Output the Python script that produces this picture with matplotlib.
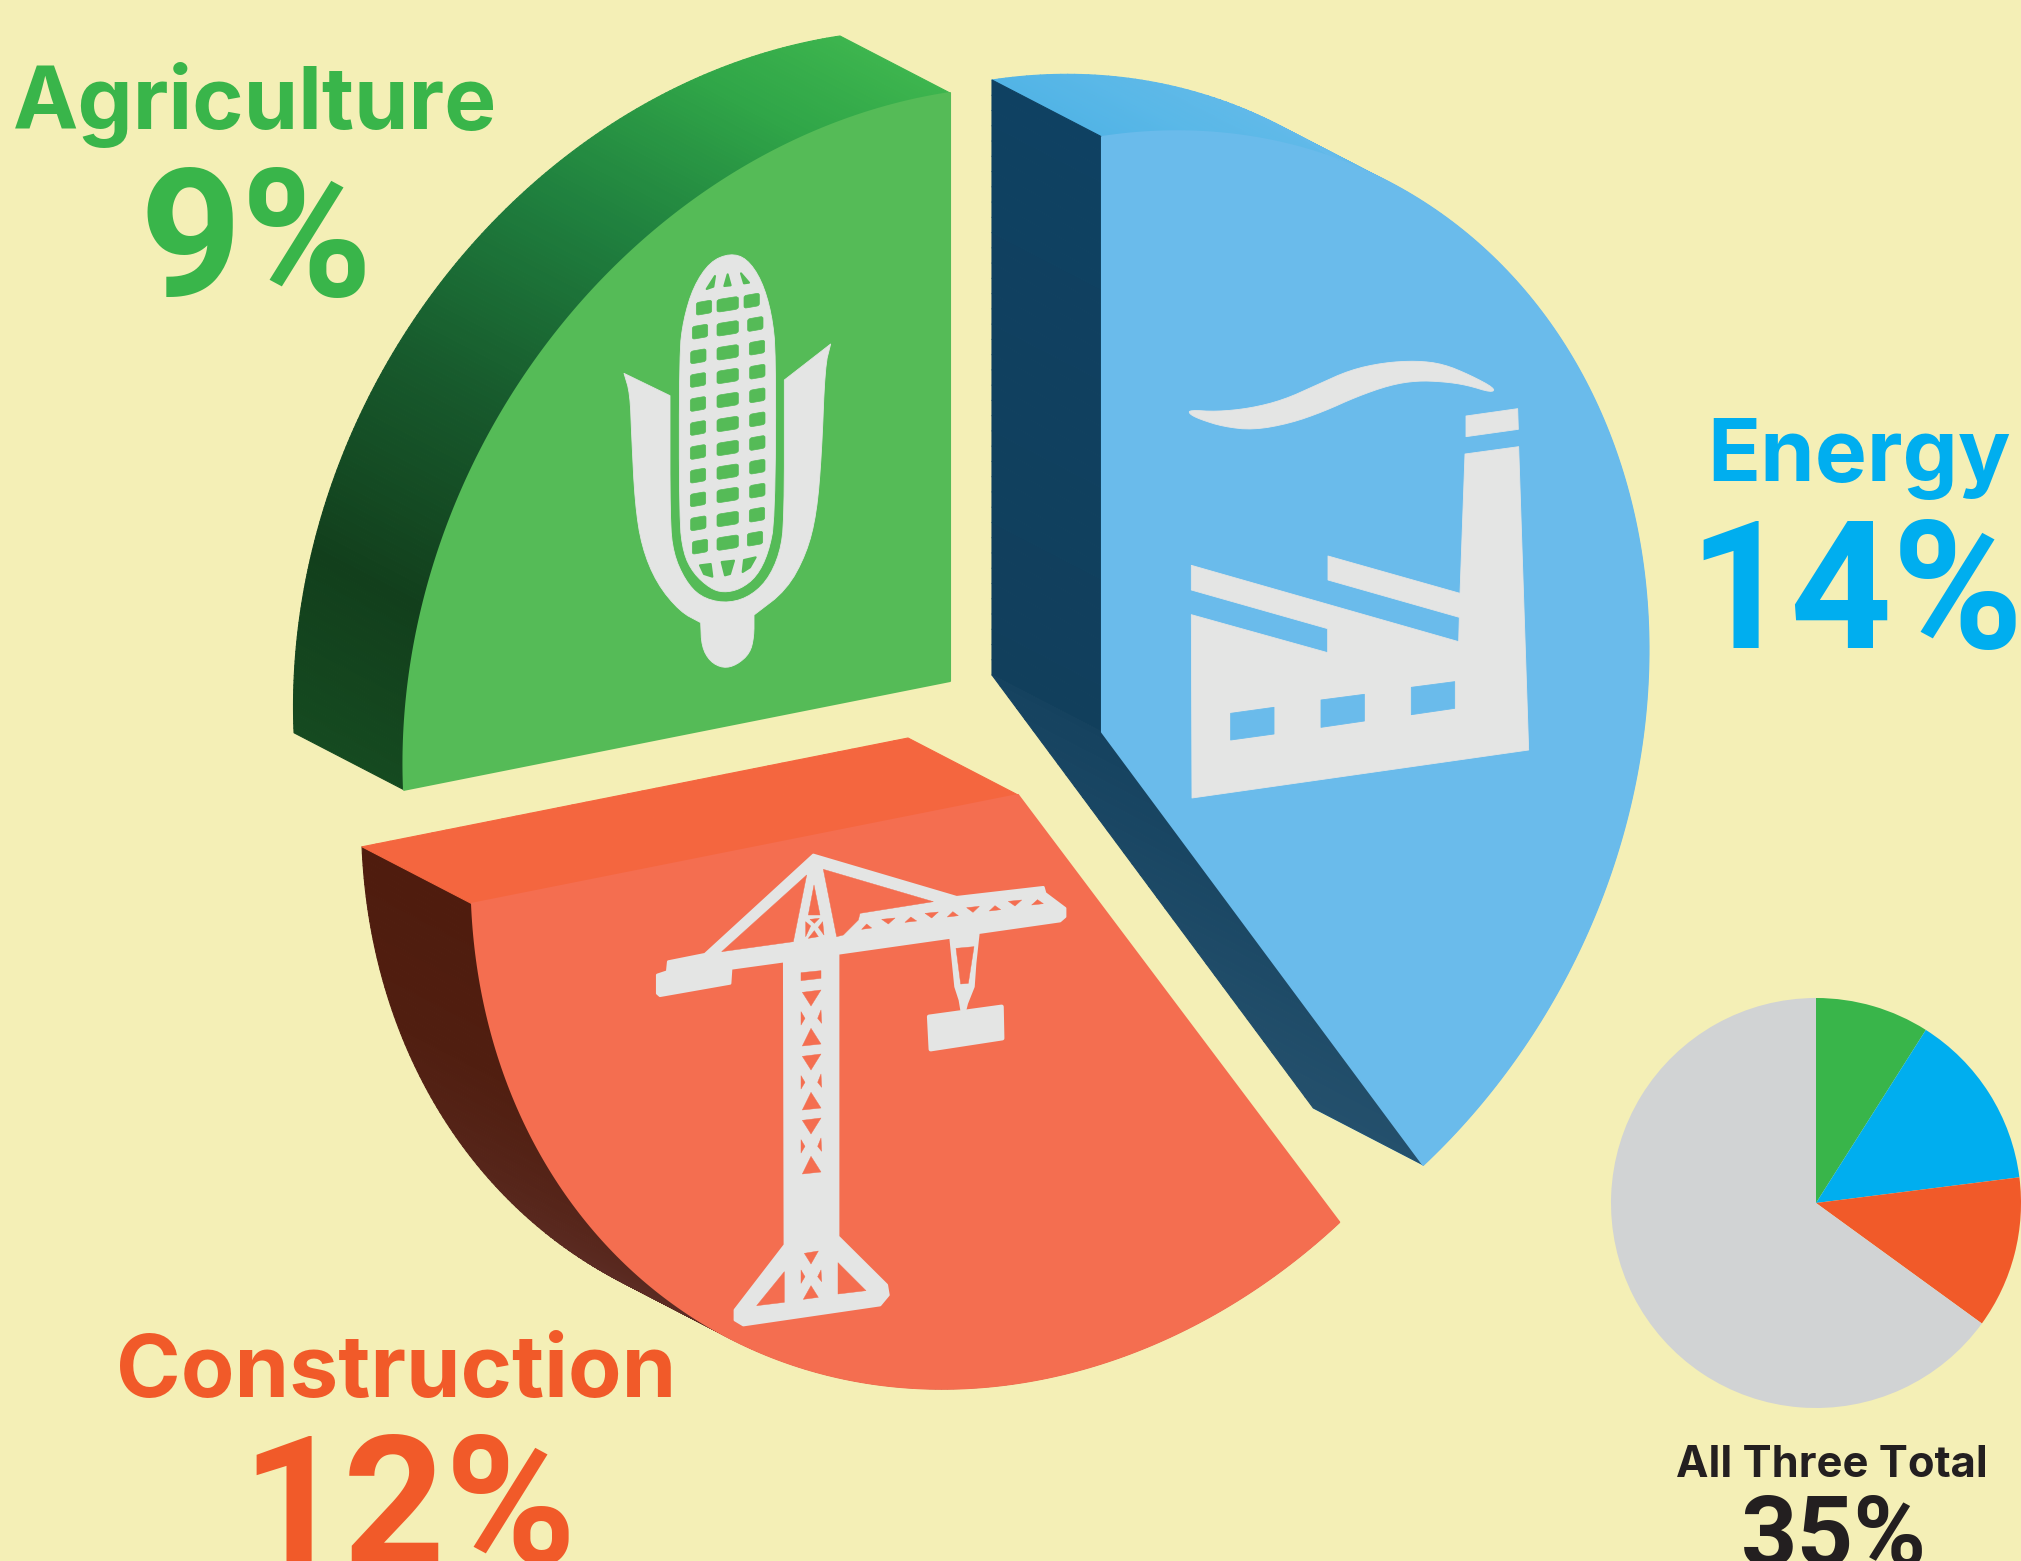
import numpy as np
import matplotlib
matplotlib.use("Agg")
import matplotlib.pyplot as plt
from matplotlib.collections import PolyCollection
from matplotlib.colors import to_rgb
from matplotlib.patches import Polygon

W, H = 2021, 1561
FUNDO = "#f4efb6"
CINZA = "#e4e5e4"

# Dados
setores = ["Energy", "Construction", "Agriculture"]
percentuais = [14, 12, 9]
cores_texto = ["#00aeef", "#f15a29", "#39b54a"]
cores_frente = ["#6abbeb", "#f46e50", "#55bb57"]
resto_label = "All Three Total"
resto_percentual = 35
cor_resto = "#d1d3d4"

plt.rcParams["font.family"] = ["Inter", "DejaVu Sans"]
plt.rcParams["font.weight"] = "bold"

fig = plt.figure(figsize=(W / 100, H / 100), dpi=100, facecolor=FUNDO)
ax = fig.add_axes([0, 0, 1, 1])
ax.set_xlim(0, W)
ax.set_ylim(H, 0)
ax.axis("off")

# Projeção do círculo inclinado
RX, INCL = 546.5, 82.5
PROF = np.array([-110, -57])


def proj(centro, ang, ry=588):
    a = np.radians(ang)
    sx, sy = np.sin(a), np.cos(a)
    return np.column_stack([centro[0] + RX * sx, centro[1] - INCL * sx - ry * sy])


def rampa(t, ts, cores):
    c = np.array([to_rgb(k) for k in cores])
    return [np.interp(t, ts, c[:, i]) for i in range(3)]


def faixa(pts, ts, ts_ref, cores, z):
    # quads extrudados de um contorno, com cor variando ao longo dele
    polys, cs = [], []
    for i in range(len(pts) - 1):
        polys.append([pts[i], pts[i + 1], pts[i + 1] + PROF, pts[i] + PROF])
        cs.append(rampa((ts[i] + ts[i + 1]) / 2, ts_ref, cores))
    ax.add_collection(PolyCollection(polys, facecolors=cs, edgecolors=cs, linewidths=0.8, zorder=z))


def raio_pts(centro, ang, lin, ry=588):
    fim = proj(centro, ang, ry)[0]
    return np.column_stack([centro[0] + lin * (fim[0] - centro[0]), centro[1] + lin * (fim[1] - centro[1])])


def fatia(centro, a0, a1, cor, ry=588, z=5):
    arco = proj(centro, np.linspace(a0, a1, 200), ry)
    ax.add_patch(Polygon(np.vstack([centro, arco]), closed=True, fc=cor, ec=cor, lw=1.5, joinstyle="round", zorder=z))


total = sum(percentuais)
angulos = np.cumsum([0] + [p / total * 360 for p in percentuais])

centro_e = (1102, 732)
centro_c = (1018, 795)
centro_a = (950, 681)
lin = np.linspace(0, 1, 40)

# Energy
a0, a1 = angulos[0], angulos[1]
t = np.linspace(a0, a1, 200)
faixa(proj(centro_e, t, 595), t, [0, 10, 50], ["#52b4e6", "#5ab8e8", "#6abbeb"], 2)
faixa(raio_pts(centro_e, a0, lin, 595), lin, [0, 1], ["#113f5c", "#0f4162"], 3)
faixa(raio_pts(centro_e, a1, lin, 595), lin, [0, 1], ["#15425f", "#24506c"], 3)
fatia(centro_e, a0, a1, cores_frente[0], 595)

# Construction
a0, a1 = angulos[1], angulos[2]
t = np.linspace(a0, a1, 200)
faixa(proj(centro_c, t), t, [a0, 190, 215, 250, a1], ["#6b3a30", "#6b3a30", "#5c2c24", "#501e10", "#4f1c0e"], 2)
faixa(raio_pts(centro_c, a1, lin), lin, [0, 1], ["#f4663f", "#f4663f"], 3)
fatia(centro_c, a0, a1, cores_frente[1])

# Agriculture
a0, a1 = angulos[2], angulos[3]
t = np.linspace(a0, a1, 200)
faixa(proj(centro_a, t), t, [a0, 285, 305, 325, 345, a1],
      ["#154a20", "#123f1c", "#17592c", "#1f7f3e", "#30a648", "#3db54e"], 2)
fatia(centro_a, a0, a1, cores_frente[2])


# Ícones (coordenadas de recorte x3)
def suaviza(p, n=2, f=0.25):
    p = np.array(p, float)
    for _ in range(n):
        q = np.roll(p, -1, axis=0)
        p = np.column_stack([(1 - f) * p + f * q, f * p + (1 - f) * q]).reshape(-1, 2)
    return p


def icone(p, origem, cor=CINZA, z=6, lw=0.6):
    p = np.array(p, float) / 3 + origem
    ax.add_patch(Polygon(p, closed=True, fc=cor, ec=cor, lw=lw, joinstyle="round", zorder=z))


# milho
org = (560, 220)
verde = cores_frente[2]
palha = [(192, 460), (192, 460), (330, 527), (330, 527), (330, 900), (340, 1000), (375, 1080), (420, 1130), (490, 1150),
         (560, 1135), (620, 1085), (660, 1000), (673, 900), (673, 480), (673, 480), (812, 372), (812, 372), (795, 440),
         (785, 700), (770, 880), (740, 1000), (680, 1110), (582, 1185), (582, 1185), (582, 1250), (570, 1300), (530, 1335),
         (490, 1345), (450, 1325), (425, 1280), (422, 1208), (422, 1208), (360, 1175), (290, 1090), (245, 980), (225, 850),
         (215, 650), (210, 520)]
espiga = [(510, 100), (450, 125), (400, 200), (370, 300), (358, 400), (358, 900), (370, 1000), (400, 1060), (450, 1105),
          (490, 1118), (540, 1108), (590, 1070), (625, 1000), (645, 900), (648, 400), (635, 280), (605, 180), (560, 115)]
icone(suaviza(palha), org)
icone(suaviza(espiga), org)

y_esq = [263, 335, 409, 480, 552, 624, 696, 767, 838, 910, 980]
y_mei = [253, 325, 397, 468, 540, 612, 684, 755, 825, 897, 968]
y_dir = [242, 312, 383, 455, 526, 598, 669, 740, 812, 884, 956]
x_esq = [432, 420, 415, 414, 414, 414, 414, 414, 414, 415, 420]
x_dir = [575, 586, 591, 592, 592, 592, 592, 592, 592, 591, 585]
for i in range(11):
    for cx, cy, a, inc in [(x_esq[i], y_esq[i], 23, 4), (503, y_mei[i], 32, 5), (x_dir[i], y_dir[i], 23, 4)]:
        grao = [(cx - a, cy - 19 + inc), (cx + a, cy - 19 - inc), (cx + a, cy + 19 - inc), (cx - a, cy + 19 + inc)]
        icone(suaviza(grao, 2, 0.1), org, cor=verde, z=7, lw=0.5)
for g in [[(465, 168), (440, 207), (460, 200)], [(503, 163), (493, 198), (512, 196)], [(543, 160), (567, 188), (552, 190)],
          [(420, 1036), (452, 1032), (457, 1070), (432, 1062)], [(485, 1026), (522, 1022), (510, 1062), (495, 1066)],
          [(552, 1020), (587, 1012), (570, 1042), (548, 1056)]]:
    icone(g, org, cor=verde, z=7, lw=1.5)

# fábrica
org = (1150, 340)
azul = cores_frente[0]
fumaca = [(118, 210), (200, 215), (300, 205), (400, 180), (500, 135), (600, 90), (700, 68), (800, 62), (880, 72), (960, 105),
          (1035, 145), (1025, 158), (950, 135), (880, 125), (800, 122), (720, 135), (620, 170), (520, 215), (420, 250),
          (310, 270), (220, 260), (150, 238), (118, 222)]
icone(suaviza(fumaca, 2), org)
icone([(948, 228), (1103, 206), (1105, 268), (948, 290)], org)
icone([(124, 676), (926, 905), (928, 832), (534, 720), (534, 648), (930, 760), (945, 342), (1106, 320), (1136, 1230),
       (126, 1374), (124, 824), (533, 938), (533, 866), (124, 750)], org)
for jan in [[(242, 1120), (372, 1102), (372, 1182), (242, 1200)], [(513, 1080), (643, 1063), (643, 1143), (513, 1162)],
            [(784, 1042), (914, 1025), (914, 1105), (784, 1124)]]:
    icone(jan, org, cor=azul, z=7)

# guindaste
org = (640, 840)
laranja = cores_frente[1]
icone([(52, 405), (82, 395), (85, 365), (195, 343), (520, 45), (950, 172), (1210, 142), (1215, 160), (1275, 205), (1275, 230),
       (1260, 243), (1015, 278), (1005, 370), (1000, 440), (980, 490), (975, 510), (965, 510), (960, 480), (947, 440),
       (932, 292), (594, 340), (594, 1190), (740, 1335), (745, 1365), (720, 1395), (310, 1455), (285, 1440), (285, 1410),
       (435, 1215), (433, 363), (273, 385), (270, 430), (60, 467), (52, 460)], org, lw=2)
icone([(867, 530), (1085, 500), (1087, 595), (872, 628)], org, lw=3)
furos = [[(500, 105), (245, 335), (460, 305)],
         [(550, 88), (880, 185), (660, 220), (655, 240), (610, 285), (590, 290)],
         [(522, 135), (540, 225), (505, 225)],
         [(497, 245), (512, 258), (497, 290)], [(548, 245), (535, 262), (552, 285)],
         [(510, 238), (538, 235), (523, 250)], [(523, 272), (535, 290), (505, 295)],
         [(483, 398), (543, 392), (543, 415), (483, 422)],
         [(948, 325), (1002, 320), (985, 430), (962, 432)],
         [(433, 1295), (433, 1387), (350, 1397)], [(594, 1268), (678, 1352), (594, 1362)],
         [(493, 1240), (535, 1233), (513, 1272)], [(483, 1290), (495, 1310), (483, 1330)],
         [(543, 1290), (533, 1310), (545, 1325)], [(513, 1337), (535, 1372), (490, 1378)]]
for x0, x1, y0 in [(665, 695, 268), (725, 765, 238), (795, 830, 247), (855, 895, 220), (922, 955, 231), (980, 1018, 203),
                   (1048, 1082, 213), (1105, 1145, 184), (1175, 1210, 195)]:
    pico = -16 if (x0 in (665, 795, 922, 1048, 1175)) else 14
    furos.append([(x0, y0), (x1, y0 - 4), ((x0 + x1) / 2, y0 + pico)])
for d in [0, 192, 384]:
    furos.append([(487, 457 + d), (543, 450 + d), (513, 498 + d)])
    furos.append([(483, 515 + d), (495, 535 + d), (483, 555 + d)])
    furos.append([(543, 510 + d), (533, 535 + d), (545, 550 + d)])
    furos.append([(513, 565 + d), (543, 612 + d), (487, 618 + d)])
for f in furos:
    icone(f, org, cor=laranja, z=7, lw=0.3)

# Pizza pequena
ax2 = fig.add_axes([1611 / W, (H - 1408) / H, 410 / W, 410 / H])
ax2.pie([percentuais[2], percentuais[0], percentuais[1], 100 - resto_percentual],
        colors=[cores_texto[2], cores_texto[0], cores_texto[1], cor_resto],
        startangle=90, counterclock=False, radius=1.0)
ax2.set_xlim(-1, 1)
ax2.set_ylim(-1, 1)

# Textos
FONTE_PCT = ["Roboto", "DejaVu Sans"]
ax.text(255, 129, setores[2], color=cores_texto[2], fontsize=63, ha="center", va="baseline", zorder=10)
ax.text(256, 296, "%d%%" % percentuais[2], color=cores_texto[2], fontsize=128, family=FONTE_PCT, ha="center", va="baseline", zorder=10)
ax.text(1859, 481, setores[0], color=cores_texto[0], fontsize=63, ha="center", va="baseline", zorder=10)
ax.text(1856, 648, "%d%%" % percentuais[0], color=cores_texto[0], fontsize=128, family=FONTE_PCT, ha="center", va="baseline", zorder=10)
ax.text(396, 1397, setores[1], color=cores_texto[1], fontsize=63, ha="center", va="baseline", zorder=10)
ax.text(409, 1563, "%d%%" % percentuais[1], color=cores_texto[1], fontsize=128, family=FONTE_PCT, ha="center", va="baseline", zorder=10)
ax.text(1832, 1477, resto_label, color="#231f20", fontsize=31.3, ha="center", va="baseline", zorder=10)
ax.text(1834, 1566, "%d%%" % resto_percentual, color="#231f20", fontsize=71, family=FONTE_PCT, ha="center", va="baseline", zorder=10)

fig.savefig("out.png", dpi=100, facecolor=FUNDO)
